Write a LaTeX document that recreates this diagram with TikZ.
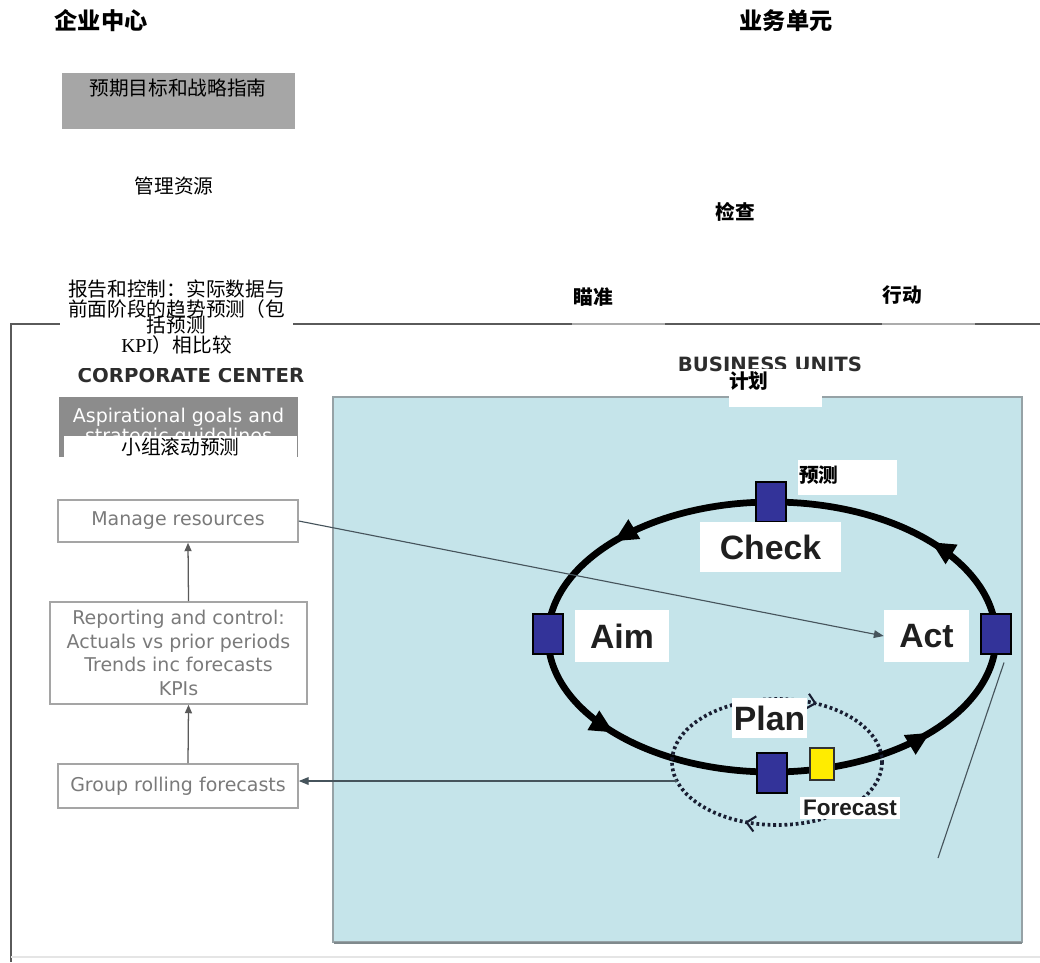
\documentclass[tikz,border=0pt]{standalone}
\usepackage{fontspec}
\setmainfont{Liberation Serif}
\newfontfamily\cjk{Noto Sans CJK SC}
\newfontfamily\arialfont{Liberation Sans}
\newfontfamily\verdfont{DejaVu Sans}
\usetikzlibrary{arrows.meta}
\usetikzlibrary{decorations.markings}

\definecolor{panelblue}{RGB}{197,228,234}
\definecolor{panelline}{RGB}{150,162,166}
\definecolor{cycleblue}{RGB}{51,51,153}
\definecolor{fcyellow}{RGB}{255,236,0}
\definecolor{goalgray}{RGB}{166,166,166}
\definecolor{aspgray}{RGB}{140,140,140}
\definecolor{corpline}{RGB}{165,165,165}
\definecolor{corptext}{RGB}{122,122,122}
\definecolor{corparrow}{RGB}{90,90,90}
\definecolor{frameline}{RGB}{90,90,90}
\definecolor{flowline}{RGB}{70,84,92}
\definecolor{headgray}{RGB}{45,45,45}
\definecolor{loopdark}{RGB}{25,30,50}

\tikzset{
  cntitle/.style={font=\cjk\bfseries\fontsize{16.5pt}{18pt}\selectfont, inner sep=0pt},
  cnlabel/.style={font=\cjk\bfseries\fontsize{14pt}{16pt}\selectfont, inner sep=0pt},
  cntext/.style={font=\cjk\fontsize{14pt}{14.2pt}\selectfont, inner sep=0pt, align=center},
  enhead/.style={font=\verdfont\bfseries\fontsize{14pt}{16pt}\selectfont, text=headgray, inner sep=0pt},
  corpbox/.style={draw=corpline, line width=1.1pt, text=corptext, align=center, inner sep=0pt,
    font=\verdfont\fontsize{13.5pt}{16.7pt}\selectfont},
  pdsquare/.style={draw=black, line width=0.8pt, fill=cycleblue, minimum width=0.75cm, minimum height=1cm, inner sep=0pt},
  pdlabel/.style={fill=white, text=black!88, inner sep=0pt, font=\arialfont\bfseries\fontsize{24pt}{26pt}\selectfont},
  flow/.style={draw=flowline, line width=0.8pt},
  flowarrow/.style={flow, -{Triangle[length=7pt,width=5.5pt]}},
  uparrow/.style={draw=corparrow, line width=0.9pt, -{Triangle[length=6pt,width=5pt]}},
  pdring/.style={draw=black, line width=4.8pt, postaction={decorate},
    decoration={markings,
      mark=at position 0.105 with {\arrow{Triangle[length=17pt,width=15pt]}},
      mark=at position 0.394 with {\arrow{Triangle[length=17pt,width=15pt]}},
      mark=at position 0.606 with {\arrow{Triangle[length=17pt,width=15pt]}},
      mark=at position 0.894 with {\arrow{Triangle[length=17pt,width=15pt]}}}},
  fcloop/.style={draw=loopdark, line width=2.6pt, dash pattern=on 2pt off 2pt, postaction={decorate},
    decoration={markings,
      mark=at position 0.31 with {\arrow[loopdark]{Straight Barb[length=6pt,width=11pt,line width=1.5pt]}},
      mark=at position 0.825 with {\arrow[loopdark]{Straight Barb[length=6pt,width=11pt,line width=1.5pt]}}}},
}

\begin{document}
\begin{tikzpicture}[x=0.025cm, y=-0.025cm]
	\useasboundingbox (0,0) rectangle (1040,962);

	% translated titles
	\node[cntitle] (corpcn) at (101,21) {企业中心};
	\node[cntitle] (buscn) at (786,21) {业务单元};

	\node[fill=goalgray, minimum width=5.825cm, minimum height=1.4cm, inner sep=0pt] (goalbg) at (178.5,101) {};
	\node[cntext] (goalcn) at (178,88) {预期目标和战略指南};
	\node[cntext] (managecn) at (174,186) {管理资源};

	% frame
	\draw[frameline, line width=1pt] (1040,324) -- (11,324) -- (11,962);
	\draw[black!10, line width=0.8pt] (11,957) -- (1040,957);

	\node[enhead] (corphead) at (191,375) {CORPORATE CENTER};
	\node[enhead] (bushead) at (770,364) {BUSINESS UNITS};

	\node[cntext, fill=white, minimum width=5.825cm, minimum height=2.55cm] (reportcn) at (176.5,317)
		{报告和控制：实际数据与\\前面阶段的趋势预测（包\\[-2.4pt]括预测\\{\rmfamily KPI}）相比较};

	% business units panel
	\draw[panelline, fill=panelblue, line width=1pt] (333,397) rectangle (1022,942);
	\draw[panelline!85!black, line width=1.6pt] (334,943) -- (1022,943);

	\fill[white] (729,369) rectangle (822,407);
	\node[cnlabel, anchor=north west] (plancn) at (729,371) {计划};

	% corporate center column
	\node[fill=aspgray, minimum width=5.975cm, minimum height=1.5cm, inner sep=0pt, text=white, align=center,
		font=\verdfont\fontsize{13.5pt}{14.2pt}\selectfont] (aspire) at (178.5,427)
		{Aspirational goals and\\strategic guidelines};
	\node[cntext, fill=white, minimum width=5.825cm, minimum height=0.55cm] (groupcn) at (180.5,447) {小组滚动预测};

	\node[corpbox, minimum width=6cm, minimum height=1.05cm] (manage) at (178,521) {Manage resources};
	\node[corpbox, minimum width=6.425cm, minimum height=2.55cm] (report) at (178.5,653)
		{Reporting and control:\\Actuals vs prior periods\\Trends inc forecasts\\KPIs};
	\node[corpbox, minimum width=6cm, minimum height=1.1cm] (group) at (178,786) {Group rolling forecasts};

	\draw[uparrow] ([xshift=0.25cm]report.north) -- ([xshift=0.25cm]manage.south);
	\draw[uparrow] ([xshift=0.25cm]group.north) -- ([xshift=0.25cm]report.south);

	% aim - plan - act - check cycle
	\draw[pdring] (996,637) arc[start angle=0, end angle=-360, x radius=224, y radius=135];
	\draw[fcloop] (882,762) arc[start angle=0, end angle=360, x radius=105, y radius=63];

	\node[pdsquare] (checksq) at (771,502) {};
	\node[pdsquare] (aimsq) at (548,634) {};
	\node[pdsquare] (actsq) at (996,634) {};
	\node[pdsquare] (plansq) at (772,773) {};
	\node[draw=black!80, line width=0.8pt, fill=fcyellow, minimum width=0.6cm, minimum height=0.8cm, inner sep=0pt] (fcsq) at (822,764) {};

	\node[pdlabel, minimum width=3.525cm, minimum height=1.25cm] (check) at (770.5,547) {Check};
	\node[pdlabel, minimum width=2.35cm, minimum height=1.3cm] (aim) at (622,636) {Aim};
	\node[pdlabel, minimum width=2.125cm, minimum height=1.3cm] (act) at (926.5,636) {Act};
	\node[pdlabel, minimum width=1.875cm, minimum height=1cm] (plan) at (769.5,718) {Plan};
	\node[pdlabel, minimum width=2.5cm, minimum height=0.55cm, font=\arialfont\bfseries\fontsize{16pt}{18pt}\selectfont] (forecast) at (850,808) {Forecast};

	% connectors
	\coordinate (loopw) at (677,781);
	\coordinate (tail) at (938,858);
	\draw[flowarrow] (manage.east) -- (act.west);
	\draw[flowarrow] (loopw) -- (loopw -| group.east);
	\draw[flow] ([xshift=0.2cm,yshift=-0.2cm]actsq.south) -- (tail);

	% translated cycle labels
	\node[cnlabel] (checkcn) at (735,212) {检查};
	\fill[white, opacity=0.5] (572,318) rectangle (665,328);
	\node[cnlabel] (aimcn) at (593,297) {瞄准};
	\fill[white, opacity=0.5] (882,318) rectangle (975,328);
	\node[cnlabel] (actcn) at (902,295) {行动};
	\fill[white] (798,460) rectangle (897,495);
	\node[cnlabel, anchor=west] (fccn) at (799,475) {预测};
\end{tikzpicture}
\end{document}
